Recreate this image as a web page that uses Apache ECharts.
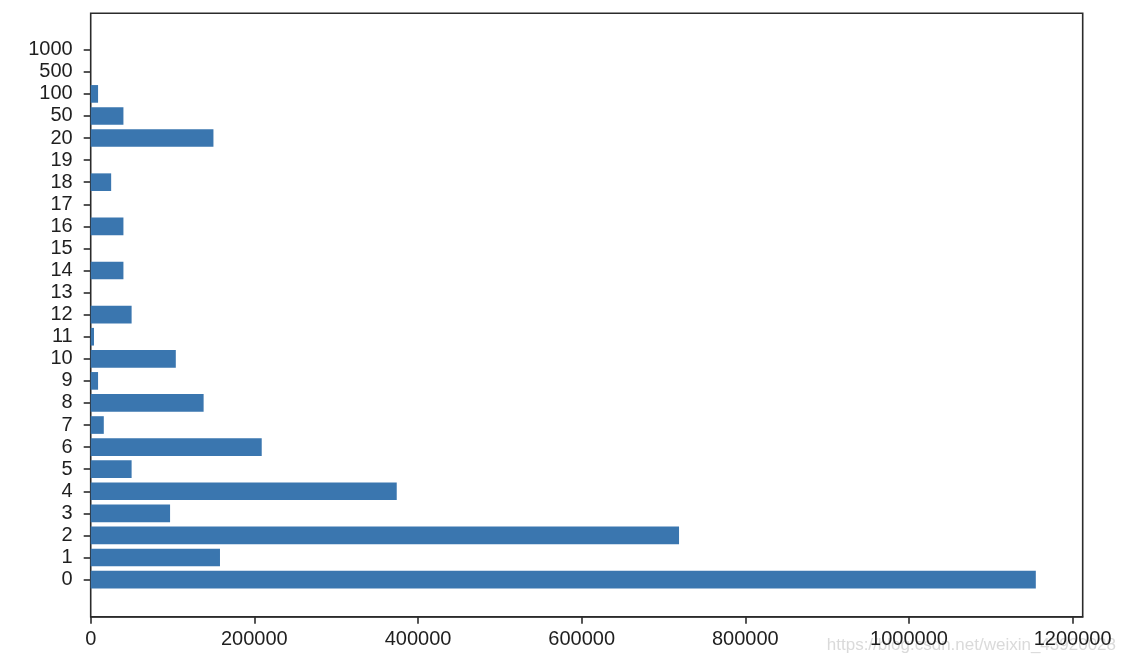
<!DOCTYPE html>
<html>
<head>
<meta charset="utf-8">
<script src="https://cdn.jsdelivr.net/npm/echarts@6/dist/echarts.min.js"></script>
<style>html,body{margin:0;padding:0;background:#fff}#c{width:1128px;height:668px}</style>
</head>
<body>
<div id="c"></div>
<script>
var categories = ['0','1','2','3','4','5','6','7','8','9','10','11','12','13','14','15','16','17','18','19','20','50','100','500','1000'];
var values = [1155000,158000,719000,97000,374000,50000,209000,16000,138000,9000,104000,4000,50000,0,40000,0,40000,0,25000,0,150000,40000,9000,0,0];
var xTicks = [0,200000,400000,600000,800000,1000000,1200000];
var xMax = 1212300;

var chart = echarts.init(document.getElementById('c'), null, {renderer:'canvas'});
var font = 'Liberation Sans, Arial, Helvetica, sans-serif';
var L = 90.7, R = 45.3;
chart.setOption({
  animation:false,
  backgroundColor:'#fff',
  grid:[
    {left:L, right:R, top:13.3, bottom:51.3, show:true, borderColor:'#2b2b2b', borderWidth:1.6, backgroundColor:'transparent'},
    {left:L, right:R, top:38.7, bottom:77.4, show:false}
  ],
  xAxis:[
    {type:'value', gridIndex:0, min:0, max:xMax,
     axisLine:{show:true, lineStyle:{color:'#2b2b2b', width:1.6}},
     axisTick:{show:true, length:7, customValues:xTicks, lineStyle:{color:'#2b2b2b', width:1.6}},
     axisLabel:{show:true, customValues:xTicks, margin:13, fontSize:20, fontFamily:font, color:'#1f1f1f', formatter:function(v){return String(v);}},
     splitLine:{show:false}},
    {type:'value', gridIndex:1, min:0, max:xMax, show:false, splitLine:{show:false}}
  ],
  yAxis:[
    {type:'value', gridIndex:0, show:false, splitLine:{show:false}},
    {type:'category', gridIndex:1, data:categories, boundaryGap:true,
     axisLine:{show:false},
     axisTick:{show:true, alignWithLabel:true, length:7, lineStyle:{color:'#2b2b2b', width:1.6}},
     axisLabel:{show:true, interval:0, margin:18, fontSize:20, fontFamily:font, color:'#1f1f1f'},
     splitLine:{show:false}}
  ],
  series:[{
    type:'bar', xAxisIndex:1, yAxisIndex:1, data:values, barCategoryGap:'20%',
    itemStyle:{color:'#3a76af', borderWidth:0}
  }],
  graphic:[{
    type:'text', right:12, top:637,
    style:{text:'https://blog.csdn.net/weixin_43920028', fontSize:17, fontFamily:font, fill:'rgba(205,205,205,0.75)'}
  }]
});
</script>
</body>
</html>
